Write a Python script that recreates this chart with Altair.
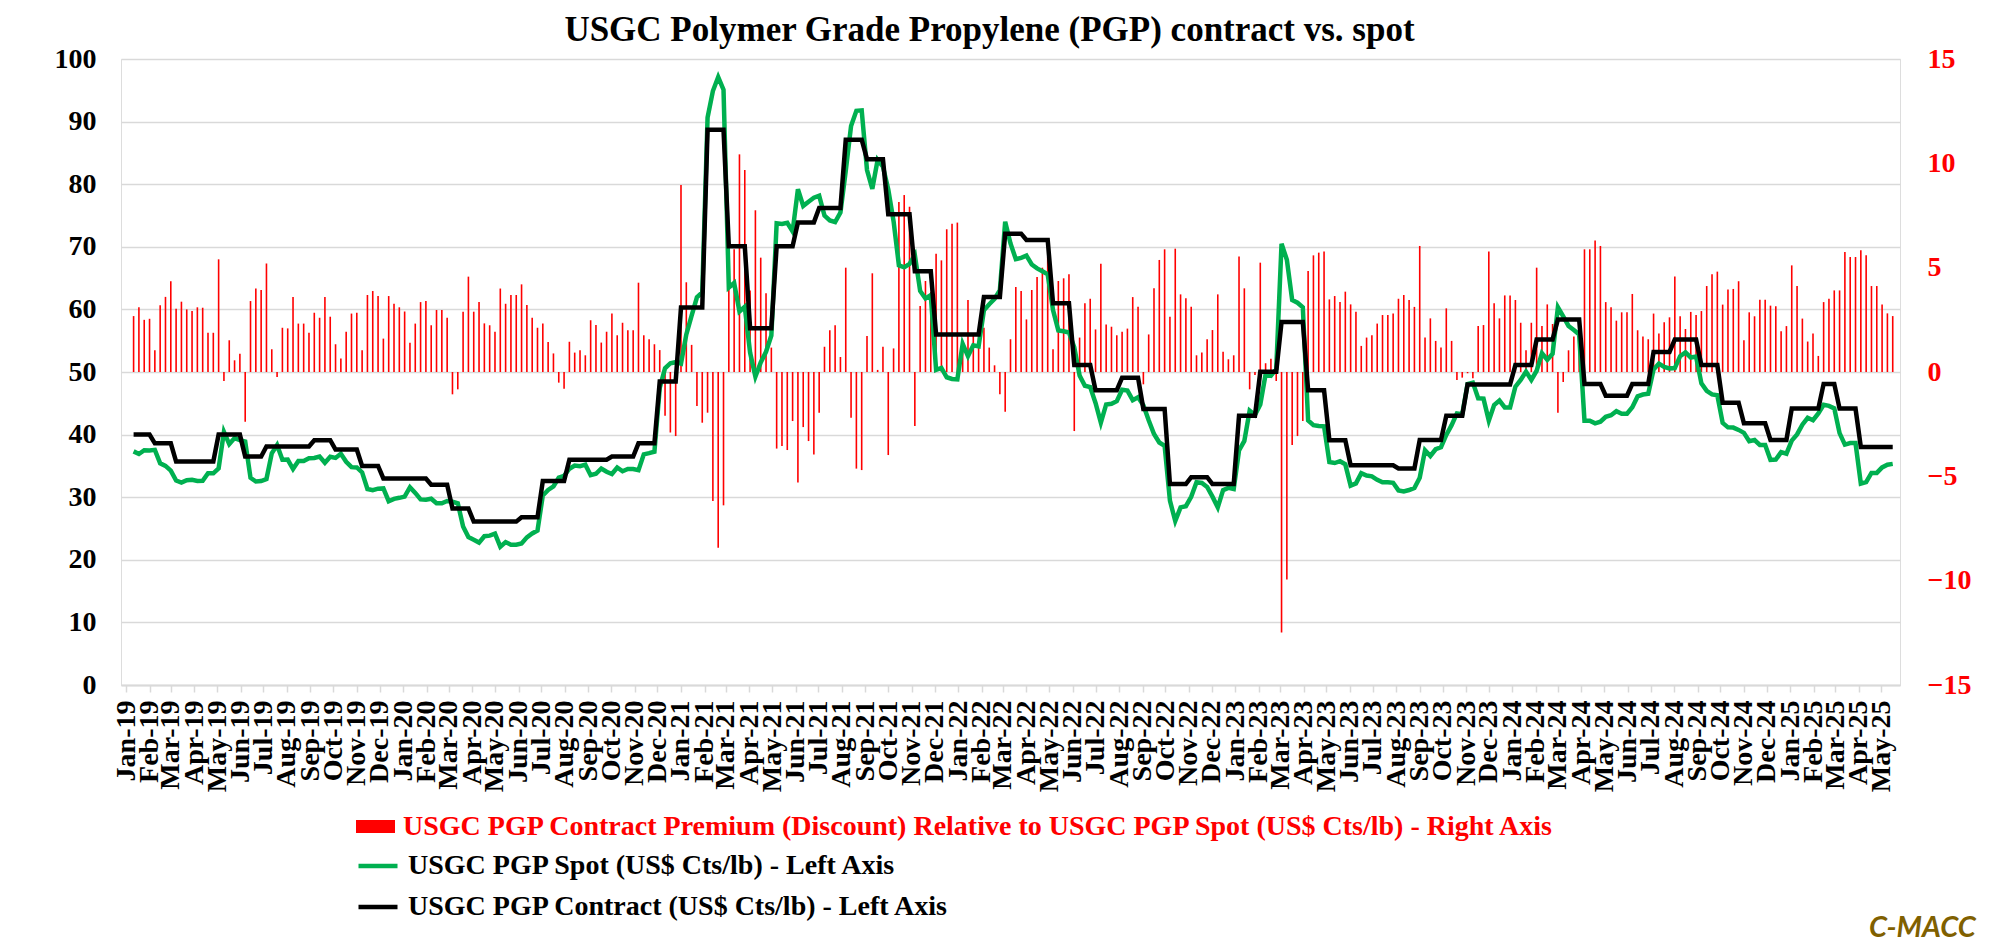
import altair as alt
import numpy as np
import pandas as pd

FONT = "Liberation Serif"
GRID = "#D9D9D9"
RED = "#FF0000"
GREEN = "#00B050"
BLACK = "#000000"

title_text = "USGC Polymer Grade Propylene (PGP) contract vs. spot"
lab_prem = "USGC PGP Contract Premium (Discount) Relative to USGC PGP Spot (US$ Cts/lb) - Right Axis"
lab_spot = "USGC PGP Spot (US$ Cts/lb) - Left Axis"
lab_contract = "USGC PGP Contract (US$ Cts/lb) - Left Axis"
brand = "C-MACC"

first_week = "2019-01-11"
x_start = "2019-01-01"
x_end = "2025-05-19"
x_label_format = "%b-%y"
left_ticks = list(range(0, 101, 10))
right_ticks = [-15, -10, -5, 0, 5, 10, 15]

# monthly contract price (US$ Cts/lb), Jan-19 .. May-25
contract_month = [
    40.0, 38.6, 35.7, 35.7, 40.0, 36.5, 38.1, 38.1, 39.1, 37.6, 35.0, 33.0,
    33.0, 32.0, 28.2, 26.1, 26.1, 26.8, 32.6, 36.0, 36.0, 36.5, 38.6, 48.5,
    60.3, 88.7, 70.1, 57.0, 70.1, 73.9, 76.2, 87.1, 84.0, 75.2, 66.1, 56.0,
    56.0, 62.0, 72.1, 71.1, 61.0, 51.1, 47.1, 49.1, 44.1, 32.1, 33.2, 32.1,
    43.0, 50.05, 58.0, 47.1, 39.1, 35.1, 35.1, 34.6, 39.15, 43.0, 48.0, 48.0,
    51.1, 55.2, 58.4, 48.1, 46.2, 48.1, 53.2, 55.2, 51.1, 45.1, 41.8, 39.15,
    44.15, 48.1, 44.15, 38.0, 38.0,
]
# number of weekly points that carry each month's contract price
contract_weeks = [
    4, 4, 4, 4, 5, 4, 4, 5, 4, 5, 4, 4,
    5, 4, 4, 4, 5, 4, 5, 4, 4, 5, 4, 4,
    5, 4, 4, 5, 4, 4, 5, 4, 4, 5, 4, 5,
    4, 4, 4, 5, 4, 4, 5, 4, 5, 4, 4, 5,
    4, 4, 5, 4, 4, 5, 4, 4, 5, 4, 4, 5,
    4, 4, 5, 4, 5, 4, 4, 5, 4, 4, 5, 4,
    6, 3, 4, 4, 3,
]

# weekly contract premium (discount) vs spot, right axis
premium = [
    2.68, 3.10, 2.50, 2.55, 1.04, 3.20, 3.60, 4.35, 3.03, 3.37,
    3.00, 2.92, 3.10, 3.08, 1.88, 1.88, 5.40, -0.43, 1.52, 0.56,
    0.88, -2.38, 3.40, 4.00, 3.93, 5.20, 1.09, -0.24, 2.12, 2.09,
    3.60, 2.32, 2.32, 1.88, 2.84, 2.60, 3.60, 2.65, 1.33, 0.65,
    1.93, 2.80, 2.84, 1.04, 3.69, 3.88, 3.64, 1.60, 3.64, 3.27,
    3.10, 2.90, 1.40, 2.32, 3.35, 3.40, 2.24, 2.97, 2.97, 2.60,
    -1.07, -0.83, 2.89, 4.57, 2.89, 3.35, 2.33, 2.24, 1.93, 4.00,
    3.27, 3.69, 3.69, 4.20, 3.21, 2.60, 2.12, 2.32, 1.44, 0.89,
    -0.51, -0.80, 1.45, 0.93, 1.04, 0.80, 2.48, 2.25, 1.41, 1.93,
    2.80, 1.76, 2.36, 2.00, 2.00, 4.28, 1.76, 1.57, 1.33, 1.05,
    -2.10, -2.90, -3.07, 8.96, 4.30, 1.30, -1.63, -2.43, -1.95, -6.18,
    -8.42, -6.39, 6.60, 5.88, 10.43, 9.68, 3.90, 7.75, 5.48, 3.77,
    1.17, -3.67, -3.55, -3.74, -2.35, -5.30, -2.64, -3.31, -3.95, -1.95,
    1.21, 2.00, 2.24, 0.72, 5.00, -2.19, -4.63, -4.70, 1.73, 4.73,
    0.10, 1.21, -3.98, 1.13, 8.15, 8.48, 7.92, -2.59, 3.16, 4.36,
    3.83, 5.67, 5.35, 6.84, 7.11, 7.16, 1.50, 3.45, 1.73, 1.90,
    2.12, 1.17, 0.32, -1.07, -1.90, 1.57, 4.07, 3.88, 2.52, 3.93,
    4.55, 5.00, 5.50, 1.09, 4.36, 4.49, 4.68, -2.83, 1.65, 3.29,
    3.51, 2.04, 5.19, 2.28, 2.17, 1.76, 1.93, 2.08, 3.59, 3.13,
    -0.59, 1.80, 4.01, 5.37, 5.88, 2.65, 5.91, 3.72, 3.53, 3.13,
    0.80, 0.93, 1.57, 2.01, 3.72, 0.97, 0.61, 0.80, 5.53, 4.01,
    -0.83, -0.14, 5.24, 0.42, 0.64, -0.43, -12.49, -9.94, -3.50, -3.07,
    -2.35, 4.84, 5.59, 5.72, 5.77, 3.48, 3.64, 3.35, 3.85, 3.24,
    2.89, 1.25, 1.65, 1.76, 2.32, 2.73, 2.73, 2.80, 3.51, 3.69,
    3.45, 3.12, 6.04, 1.65, 2.57, 1.49, 1.17, 3.05, 1.49, -0.38,
    -0.27, -0.06, -0.30, 2.20, 2.25, 5.77, 3.29, 2.57, 3.67, 3.67,
    3.45, 2.36, 1.04, 2.36, 5.00, 2.20, 3.24, 2.30, -1.95, -0.48,
    1.04, 1.70, 2.40, 5.88, 5.88, 6.30, 6.04, 3.35, 3.10, 2.46,
    2.86, 2.86, 3.74, 2.00, 1.70, 1.57, 2.80, 1.85, 2.38, 2.62,
    4.58, 2.67, 2.06, 2.88, 2.73, 2.92, 4.12, 4.68, 4.81, 3.23,
    3.95, 3.98, 4.35, 1.52, 2.86, 2.67, 3.46, 3.46, 3.18, 3.15,
    1.95, 2.20, 5.11, 4.12, 2.56, 1.46, 1.85, 0.77, 3.35, 3.51,
    3.91, 3.91, 5.75, 5.51, 5.51, 5.83, 5.59, 4.12, 4.12, 3.24,
    2.81, 2.68,
]

# weekly spot price (US$ Cts/lb), left axis
spot = [
    37.32, 36.90, 37.50, 37.45, 37.56, 35.40, 35.00, 34.25, 32.67, 32.33,
    32.70, 32.78, 32.60, 32.62, 33.82, 33.82, 34.60, 40.43, 38.48, 39.44,
    39.12, 38.88, 33.10, 32.50, 32.57, 32.90, 37.01, 38.34, 35.98, 36.01,
    34.50, 35.78, 35.78, 36.22, 36.26, 36.50, 35.50, 36.45, 36.27, 36.95,
    35.67, 34.80, 34.76, 33.96, 31.31, 31.12, 31.36, 31.40, 29.36, 29.73,
    29.90, 30.10, 31.60, 30.68, 29.65, 29.60, 29.76, 29.03, 29.03, 29.40,
    29.27, 29.03, 25.31, 23.63, 23.21, 22.75, 23.77, 23.86, 24.17, 22.10,
    22.83, 22.41, 22.41, 22.60, 23.59, 24.20, 24.68, 30.28, 31.16, 31.71,
    33.11, 33.40, 34.55, 35.07, 34.96, 35.20, 33.52, 33.75, 34.59, 34.07,
    33.70, 34.74, 34.14, 34.50, 34.50, 34.32, 36.84, 37.03, 37.27, 47.45,
    50.60, 51.40, 51.57, 51.34, 56.00, 59.00, 61.93, 62.73, 90.65, 94.88,
    97.12, 95.09, 63.50, 64.22, 59.67, 60.42, 53.10, 49.25, 51.52, 53.23,
    55.83, 73.77, 73.65, 73.84, 72.45, 79.20, 76.54, 77.21, 77.85, 78.15,
    74.99, 74.20, 73.96, 75.48, 82.10, 89.29, 91.73, 91.80, 82.27, 79.27,
    83.90, 82.79, 79.18, 74.07, 67.05, 66.72, 67.28, 68.69, 62.94, 61.74,
    62.27, 50.33, 50.65, 49.16, 48.89, 48.84, 54.50, 52.55, 54.27, 54.10,
    59.88, 60.83, 61.68, 63.07, 74.00, 70.53, 68.03, 68.22, 68.58, 67.17,
    66.55, 66.10, 65.60, 59.91, 56.64, 56.51, 56.32, 53.93, 49.45, 47.81,
    47.59, 45.06, 41.91, 44.82, 44.93, 45.34, 47.17, 47.02, 45.51, 45.97,
    44.69, 42.30, 40.09, 38.73, 38.22, 29.45, 26.19, 28.38, 28.57, 30.07,
    32.40, 32.27, 31.63, 30.09, 28.38, 31.13, 31.49, 31.30, 37.47, 38.99,
    43.83, 43.14, 44.81, 49.63, 49.41, 50.48, 70.49, 67.94, 61.50, 61.07,
    60.35, 42.26, 41.51, 41.38, 41.33, 35.62, 35.46, 35.75, 35.25, 31.86,
    32.21, 33.85, 33.45, 33.34, 32.78, 32.37, 32.37, 32.30, 31.09, 30.91,
    31.15, 31.48, 33.11, 37.50, 36.58, 37.66, 37.98, 39.95, 41.51, 43.38,
    43.27, 48.06, 48.30, 45.80, 45.75, 42.23, 44.71, 45.43, 44.33, 44.33,
    47.65, 48.74, 50.06, 48.74, 50.20, 53.00, 51.96, 52.90, 60.35, 58.88,
    57.36, 56.70, 56.00, 42.22, 42.22, 41.80, 42.06, 42.85, 43.10, 43.74,
    43.34, 43.34, 44.36, 46.10, 46.40, 46.53, 50.40, 51.35, 50.82, 50.58,
    50.62, 52.53, 53.14, 52.32, 52.47, 48.18, 46.98, 46.42, 46.29, 41.87,
    41.15, 41.12, 40.75, 40.28, 38.94, 39.13, 38.34, 38.34, 35.97, 36.00,
    37.20, 36.95, 39.04, 40.03, 41.59, 42.69, 42.30, 43.38, 44.75, 44.59,
    44.19, 40.24, 38.40, 38.64, 38.64, 32.17, 32.41, 33.88, 33.88, 34.76,
    35.19, 35.32,
]

# ---------------------------------------------------------------- table
n = min(len(spot), len(premium), sum(contract_weeks))
dates = pd.date_range(first_week, periods=n, freq="7D")
df = pd.DataFrame({
    "date": dates.strftime("%Y-%m-%d"),
    "spot": spot[:n],
    "premium": premium[:n],
    "contract": np.repeat(contract_month, contract_weeks)[:n],
})
df["k_prem"] = lab_prem
df["k_spot"] = lab_spot
df["k_con"] = lab_contract

months = pd.date_range(x_start, "2025-05-01", freq="MS")


def dt(ts):
    ts = pd.Timestamp(ts)
    return alt.DateTime(year=ts.year, month=ts.month, date=ts.day, utc=True)


x_scale = alt.Scale(type="utc", domain=[dt(x_start), dt(x_end)])
x_axis = alt.Axis(
    values=[dt(m) for m in months],
    labelExpr="utcFormat(datum.value, '%s')" % x_label_format,
    labelAngle=270, labelOverlap=False, labelBound=False, labelFlush=False,
    labelFont=FONT, labelFontSize=28, labelFontWeight="bold", labelColor=BLACK,
    labelPadding=8, ticks=True, tickSize=7, tickColor=GRID, tickWidth=1.5,
    domain=True, domainColor=GRID, domainWidth=2, grid=False, title=None,
)
X = alt.X("date:T", scale=x_scale, axis=x_axis)

left_scale = alt.Scale(domain=[0, 100], nice=False, zero=False)
left_axis = alt.Axis(
    orient="left", values=left_ticks, grid=True, gridColor=GRID, gridWidth=1.5,
    ticks=False, tickSize=0, domain=False, labelFont=FONT, labelFontSize=28,
    labelFontWeight="bold", labelColor=BLACK, labelPadding=25, title=None,
)
right_scale = alt.Scale(domain=[-15, 15], nice=False, zero=False)
right_axis = alt.Axis(
    orient="right", values=right_ticks, grid=False, ticks=False, tickSize=0,
    domain=False, labelFont=FONT, labelFontSize=28, labelFontWeight="bold",
    labelColor=RED, labelPadding=27, title=None,
)


def legend_style(y, color):
    return dict(
        orient="none", legendX=235, legendY=y, title=None, labelFont=FONT,
        labelFontSize=28, labelFontWeight="bold", labelColor=color,
        labelLimit=3000, labelOffset=8, padding=0,
    )


bars = alt.Chart(df).mark_bar(size=1.6).encode(
    x=X,
    y=alt.Y("premium:Q", scale=right_scale, axis=right_axis),
    y2=alt.datum(0),
    color=alt.Color(
        "k_prem:N", scale=alt.Scale(domain=[lab_prem], range=[RED]),
        legend=alt.Legend(
            symbolType="M-1,-0.33L1,-0.33L1,0.33L-1,0.33Z", symbolSize=1521,
            symbolStrokeWidth=0, **legend_style(748, RED)),
    ),
)

spot_line = alt.Chart(df).mark_line(strokeWidth=4.5).encode(
    x=X,
    y=alt.Y("spot:Q", scale=left_scale, axis=left_axis),
    color=alt.Color(
        "k_spot:N", scale=alt.Scale(domain=[lab_spot], range=[GREEN]),
        legend=alt.Legend(symbolType="stroke", symbolSize=1521,
                          symbolStrokeWidth=4.5, **legend_style(785, BLACK)),
    ),
)

contract_line = alt.Chart(df).mark_line(strokeWidth=4.5).encode(
    x=X,
    y=alt.Y("contract:Q", scale=left_scale, axis=left_axis),
    color=alt.Color(
        "k_con:N", scale=alt.Scale(domain=[lab_contract], range=[BLACK]),
        legend=alt.Legend(symbolType="stroke", symbolSize=1521,
                          symbolStrokeWidth=4.5, **legend_style(826, BLACK)),
    ),
)

lines = alt.layer(spot_line, contract_line).resolve_scale(color="independent")

mark_brand = alt.Chart(pd.DataFrame({"t": [brand]})).mark_text(
    font="Lato", fontSize=29, fontStyle="italic", fontWeight="bold",
    color="#806000", align="left", baseline="alphabetic",
).encode(x=alt.value(1748), y=alt.value(878), text="t:N")

chart = alt.layer(bars, lines, mark_brand).resolve_scale(
    y="independent", color="independent"
).properties(
    width=1779,
    height=626,
    title=alt.TitleParams(
        text=title_text, font=FONT, fontSize=35, fontWeight="bold",
        color=BLACK, anchor="middle", frame="group", dx=-21, dy=13, offset=10,
    ),
    autosize=alt.AutoSizeParams(type="none"),
    padding={"left": 113, "top": 51, "right": 92, "bottom": 259},
).configure_view(stroke=None).configure(background="white")

chart.save("out.html", embed_options={"renderer": "svg", "actions": False})
